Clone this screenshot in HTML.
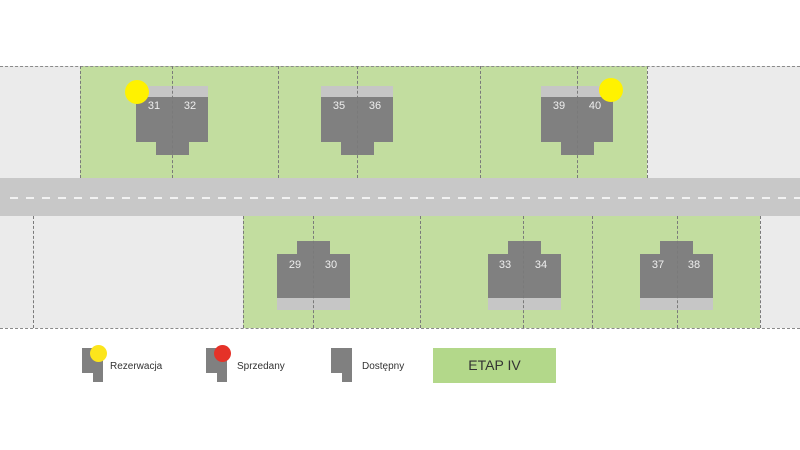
<!DOCTYPE html>
<html><head><style>
body{margin:0;width:800px;height:450px;background:#fff;position:relative;overflow:hidden;font-family:"Liberation Sans",sans-serif}
div{position:absolute;box-sizing:border-box}
.g{background:#c2dd9f}.gr{background:#ebebeb}
.v{border-left:1px dashed #7a7a7a;width:0;z-index:3}
.h{border-top:1px dashed #8a8a8a;height:0}
.d{background:#808080}.l{background:#c6c6c6}
.n{color:#eee;font-size:11px;width:36px;text-align:center;z-index:4}
.c{border-radius:50%;z-index:5}
.t{font-size:10px;color:#333}
</style></head><body>
<div class="gr" style="left:0;top:66px;width:80px;height:112px"></div>
<div class="g" style="left:80px;top:66px;width:567px;height:112px"></div>
<div class="gr" style="left:647px;top:66px;width:153px;height:112px"></div>
<div class="h" style="left:0;top:66px;width:800px"></div>
<div class="v" style="left:80px;top:66px;height:112px"></div>
<div class="v" style="left:172px;top:66px;height:112px"></div>
<div class="v" style="left:278px;top:66px;height:112px"></div>
<div class="v" style="left:357px;top:66px;height:112px"></div>
<div class="v" style="left:480px;top:66px;height:112px"></div>
<div class="v" style="left:577px;top:66px;height:112px"></div>
<div class="v" style="left:647px;top:66px;height:112px"></div>
<div style="left:0;top:178px;width:800px;height:38px;background:#c8c8c8"></div>
<div style="left:10px;top:197px;width:790px;height:2px;background:repeating-linear-gradient(90deg,#f2f2f2 0 8px,transparent 8px 16px)"></div>
<div class="gr" style="left:0;top:216px;width:243px;height:112px"></div>
<div class="g" style="left:243px;top:216px;width:517px;height:112px"></div>
<div class="gr" style="left:760px;top:216px;width:40px;height:112px"></div>
<div class="h" style="left:0;top:328px;width:800px"></div>
<div class="v" style="left:33px;top:216px;height:112px"></div>
<div class="v" style="left:243px;top:216px;height:112px"></div>
<div class="v" style="left:313px;top:216px;height:112px"></div>
<div class="v" style="left:420px;top:216px;height:112px"></div>
<div class="v" style="left:523px;top:216px;height:112px"></div>
<div class="v" style="left:592px;top:216px;height:112px"></div>
<div class="v" style="left:677px;top:216px;height:112px"></div>
<div class="v" style="left:760px;top:216px;height:112px"></div>

<div class="l" style="left:136px;top:86px;width:72px;height:11px"></div>
<div class="d" style="left:136px;top:97px;width:72px;height:45px"></div>
<div class="d" style="left:156px;top:142px;width:33px;height:13px"></div>
<div class="n" style="left:136px;top:100px">31</div><div class="n" style="left:172px;top:100px">32</div>
<div class="c" style="left:125px;top:80px;width:24px;height:24px;background:#fff200"></div>

<div class="l" style="left:321px;top:86px;width:72px;height:11px"></div>
<div class="d" style="left:321px;top:97px;width:72px;height:45px"></div>
<div class="d" style="left:341px;top:142px;width:33px;height:13px"></div>
<div class="n" style="left:321px;top:100px">35</div><div class="n" style="left:357px;top:100px">36</div>

<div class="l" style="left:541px;top:86px;width:72px;height:11px"></div>
<div class="d" style="left:541px;top:97px;width:72px;height:45px"></div>
<div class="d" style="left:561px;top:142px;width:33px;height:13px"></div>
<div class="n" style="left:541px;top:100px">39</div><div class="n" style="left:577px;top:100px">40</div>
<div class="c" style="left:599px;top:78px;width:24px;height:24px;background:#fff200"></div>

<div class="d" style="left:297px;top:241px;width:33px;height:13px"></div>
<div class="d" style="left:277px;top:254px;width:73px;height:44px"></div>
<div class="l" style="left:277px;top:298px;width:73px;height:12px"></div>
<div class="n" style="left:277px;top:259px">29</div><div class="n" style="left:313px;top:259px">30</div>

<div class="d" style="left:508px;top:241px;width:33px;height:13px"></div>
<div class="d" style="left:488px;top:254px;width:73px;height:44px"></div>
<div class="l" style="left:488px;top:298px;width:73px;height:12px"></div>
<div class="n" style="left:487px;top:259px">33</div><div class="n" style="left:523px;top:259px">34</div>

<div class="d" style="left:660px;top:241px;width:33px;height:13px"></div>
<div class="d" style="left:640px;top:254px;width:73px;height:44px"></div>
<div class="l" style="left:640px;top:298px;width:73px;height:12px"></div>
<div class="n" style="left:640px;top:259px">37</div><div class="n" style="left:676px;top:259px">38</div>

<div class="d" style="left:82px;top:348px;width:21px;height:25px"></div>
<div class="d" style="left:93px;top:370px;width:10px;height:12px"></div>
<div class="c" style="left:90px;top:345px;width:17px;height:17px;background:#fce51c"></div>
<div class="t" style="left:110px;top:361px">Rezerwacja</div>

<div class="d" style="left:206px;top:348px;width:21px;height:25px"></div>
<div class="d" style="left:217px;top:370px;width:10px;height:12px"></div>
<div class="c" style="left:214px;top:345px;width:17px;height:17px;background:#e53228"></div>
<div class="t" style="left:237px;top:361px">Sprzedany</div>

<div class="d" style="left:331px;top:348px;width:21px;height:25px"></div>
<div class="d" style="left:342px;top:370px;width:10px;height:12px"></div>
<div class="t" style="left:362px;top:361px">Dostępny</div>

<div style="left:433px;top:348px;width:123px;height:35px;background:#b3d88a;color:#333;font-size:14px;text-align:center;line-height:35px">ETAP IV</div>
</body></html>
